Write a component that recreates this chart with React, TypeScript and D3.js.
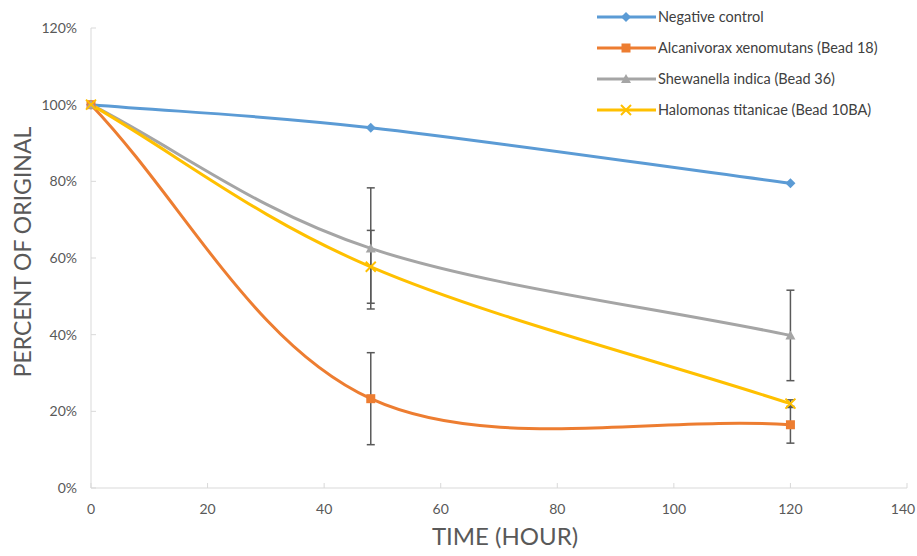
import React from "react";
import * as d3 from "d3";

const hours = [0, 48, 120];
const seriesNames = [
  "Negative control",
  "Alcanivorax xenomutans (Bead 18)",
  "Shewanella indica (Bead 36)",
  "Halomonas titanicae (Bead 10BA)",
];
const negativeControl = [100, 94, 79.5];
const alcanivorax = [100, 23.3, 16.5];
const shewanella = [100, 62.5, 39.8];
const halomonas = [100, 57.7, 22];
const alcanivoraxErr = [0, 12, 4.8];
const shewanellaErr = [0, 15.8, 11.8];
const halomonasErr = [0, 9.5, 1];
const xTicks = [0, 20, 40, 60, 80, 100, 120, 140];
const yTicks = [0, 20, 40, 60, 80, 100, 120];

const colors = ["#5B9BD5", "#ED7D31", "#A5A5A5", "#FFC000"];
const markers = ["diamond", "square", "triangle", "cross"];

const W = 917, H = 556;
const font = "Lato, 'Open Sans', sans-serif";

// spreadsheet-style smoothing: bezier with (P[i+1]-P[i-1])/6 tangents,
// end points reflected so the end tangents follow the first/last segment
function excelSmooth(context: any) {
  let pts: [number, number][] = [];
  return {
    areaStart() {},
    areaEnd() {},
    lineStart() { pts = []; },
    point(x: number, y: number) { pts.push([+x, +y]); },
    lineEnd() {
      const n = pts.length;
      if (!n) return;
      const get = (i: number): [number, number] => {
        if (i < 0) return [2 * pts[0][0] - pts[1][0], 2 * pts[0][1] - pts[1][1]];
        if (i >= n) return [2 * pts[n - 1][0] - pts[n - 2][0], 2 * pts[n - 1][1] - pts[n - 2][1]];
        return pts[i];
      };
      context.moveTo(pts[0][0], pts[0][1]);
      for (let i = 0; i < n - 1; i++) {
        const p0 = get(i - 1), p1 = pts[i], p2 = pts[i + 1], p3 = get(i + 2);
        context.bezierCurveTo(
          p1[0] + (p2[0] - p0[0]) / 6, p1[1] + (p2[1] - p0[1]) / 6,
          p2[0] - (p3[0] - p1[0]) / 6, p2[1] - (p3[1] - p1[1]) / 6,
          p2[0], p2[1]
        );
      }
    },
  };
}

function Marker({ type, x, y, color }: { type: string; x: number; y: number; color: string }) {
  if (type === "diamond") {
    const s = 5;
    return <path d={`M${x},${y - s}L${x + s},${y}L${x},${y + s}L${x - s},${y}Z`} fill={color} />;
  }
  if (type === "square") {
    return <rect x={x - 4.5} y={y - 4.5} width={9} height={9} fill={color} />;
  }
  if (type === "triangle") {
    return <path d={`M${x},${y - 5}L${x + 5},${y + 4}L${x - 5},${y + 4}Z`} fill={color} />;
  }
  return (
    <path d={`M${x - 5},${y - 5}L${x + 5},${y + 5}M${x + 5},${y - 5}L${x - 5},${y + 5}`}
      stroke={color} strokeWidth={2} />
  );
}

export default function App() {
  const x = d3.scaleLinear().domain([0, 140]).range([91, 907]);
  const y = d3.scaleLinear().domain([0, 120]).range([488, 28]);

  const allSeries = [negativeControl, alcanivorax, shewanella, halomonas];
  const errors = [null, alcanivoraxErr, shewanellaErr, halomonasErr];

  const line = d3.line<number>()
    .x((_, i) => x(hours[i]))
    .y((d) => y(d))
    .curve(excelSmooth as any);

  const textColor = "#595959";
  const axisColor = "#D9D9D9";

  return (
    <svg width={W} height={H} style={{ position: "absolute", left: 0, top: 0, background: "#fff" }}>
      {/* axes */}
      <line x1={x(0)} x2={x(140)} y1={y(0)} y2={y(0)} stroke={axisColor} strokeWidth={1} />
      <line x1={x(0)} x2={x(0)} y1={y(0)} y2={y(120)} stroke={axisColor} strokeWidth={1} />
      {xTicks.map((t) => (
        <g key={"x" + t}>
          <line x1={x(t)} x2={x(t)} y1={y(0)} y2={y(0) - 5} stroke={axisColor} />
          <text x={Math.min(x(t), W - 14)} y={514} textAnchor="middle" fontFamily={font} fontSize={14} fill={textColor}>{t}</text>
        </g>
      ))}
      {yTicks.map((t) => (
        <g key={"y" + t}>
          <line x1={x(0)} x2={x(0) + 5} y1={y(t)} y2={y(t)} stroke={axisColor} />
          <text x={77} y={y(t) + 5} textAnchor="end" fontFamily={font} fontSize={14} fill={textColor}>{t}%</text>
        </g>
      ))}
      <text x={505} y={545} textAnchor="middle" fontFamily={font} fontSize={24} fill={textColor}>TIME (HOUR)</text>
      <text transform={`translate(31,252) rotate(-90)`} textAnchor="middle" fontFamily={font} fontSize={23} fill={textColor}>PERCENT  OF ORIGINAL</text>

      {/* lines */}
      {allSeries.map((s, i) => (
        <path key={"l" + i} d={line(s) || ""} fill="none" stroke={colors[i]} strokeWidth={3} />
      ))}

      {/* error bars */}
      {allSeries.map((s, i) => {
        const e = errors[i];
        if (!e) return null;
        return s.map((v, j) => {
          if (!e[j]) return null;
          const cx = x(hours[j]);
          const top = y(v + e[j]);
          const bot = y(v - e[j]);
          return (
            <g key={`e${i}-${j}`} stroke="#595959" strokeWidth={1.5}>
              <line x1={cx} x2={cx} y1={top} y2={bot} />
              <line x1={cx - 4} x2={cx + 4} y1={top} y2={top} />
              <line x1={cx - 4} x2={cx + 4} y1={bot} y2={bot} />
            </g>
          );
        });
      })}

      {/* markers */}
      {allSeries.map((s, i) =>
        s.map((v, j) => (
          <Marker key={`m${i}-${j}`} type={markers[i]} x={x(hours[j])} y={y(v)} color={colors[i]} />
        ))
      )}

      {/* legend */}
      {seriesNames.map((n, i) => {
        const ly = 17 + i * 31;
        return (
          <g key={"lg" + i}>
            <line x1={597} x2={656} y1={ly} y2={ly} stroke={colors[i]} strokeWidth={3} />
            <Marker type={markers[i]} x={626} y={ly} color={colors[i]} />
            <text x={658} y={ly + 5} fontFamily={font} fontSize={14.5} fill="#404040">{n}</text>
          </g>
        );
      })}
    </svg>
  );
}
